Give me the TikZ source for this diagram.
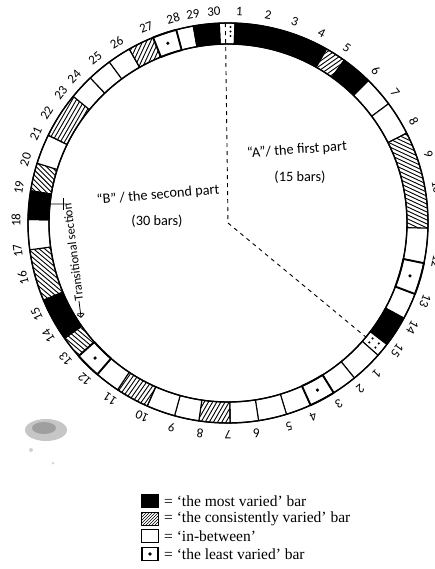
\documentclass[tikz,border=0pt]{standalone}
\usepackage{fontspec}
\setmainfont{Liberation Serif}
\newfontfamily\handfont{Carlito}
\usetikzlibrary{arrows.meta,patterns}
\newcommand\rin{179pt}
\newcommand\rout{200pt}
\newcommand\wseg[2]{\draw[segw] (#1:\rin) arc[start angle=#1,end angle=#2,radius=\rin] -- (#2:\rout) arc[start angle=#2,end angle=#1,radius=\rout] -- cycle;}
\newcommand\kseg[2]{\draw[segk] (#1:\rin) arc[start angle=#1,end angle=#2,radius=\rin] -- (#2:\rout) arc[start angle=#2,end angle=#1,radius=\rout] -- cycle;}
\newcommand\dseg[2]{\draw[segd] (#1:\rin) arc[start angle=#1,end angle=#2,radius=\rin] -- (#2:\rout) arc[start angle=#2,end angle=#1,radius=\rout] -- cycle;
  \pgfmathsetmacro\hm{(#1+#2)/2}\fill (\hm:189.5) circle[radius=1.8pt];}
\newcommand\hseg[3]{%
  \begin{scope}
    \clip (#1:\rin) arc[start angle=#1,end angle=#2,radius=\rin] -- (#2:\rout) arc[start angle=#2,end angle=#1,radius=\rout] -- cycle;
    \pgfmathsetmacro\hm{(#1+#2)/2}
    \begin{scope}[shift={(\hm:189.5)},rotate=#3]
      \foreach \k in {-22,...,22}{\draw[hatchline] (-80,\k*3.6) -- (80,\k*3.6);}
    \end{scope}
  \end{scope}
  \draw[seg] (#1:\rin) arc[start angle=#1,end angle=#2,radius=\rin] -- (#2:\rout) arc[start angle=#2,end angle=#1,radius=\rout] -- cycle;}
\begin{document}
\begin{tikzpicture}[x=1pt,y=1pt,
  seg/.style={draw=black, line width=1.1pt, line join=round},
  segw/.style={seg, fill=white},
  segk/.style={seg, fill=black},
  segd/.style={draw=black, line width=1.9pt, fill=white, line join=round},
  hatchline/.style={line width=0.9pt},
  ringline/.style={line width=1.4pt},
  lab/.style={font=\handfont\fontsize{13}{13}\selectfont, inner sep=0pt},
  hand/.style={font=\handfont\fontsize{14.3}{16}\selectfont, inner sep=0pt},
  trtext/.style={font=\handfont\fontsize{12.5}{13}\selectfont, inner sep=0pt},
  trarrow/.style={line width=0.8pt, -{Bar[width=7pt]Straight Barb[length=3pt,width=7pt]}},
  legtext/.style={font=\fontsize{15.5}{16}\selectfont, inner sep=0pt, anchor=west},
  legbox/.style={draw=black, line width=1pt, minimum width=16pt, minimum height=13pt, inner sep=0pt},
  dashline/.style={line width=0.9pt, dash pattern=on 4pt off 4pt},
]
\useasboundingbox (-228,-346) rectangle (206,223);
% ---- ring segments ----
\wseg{92.5}{88}
\kseg{88}{60.5}
\hseg{60.5}{54.5}{35}
\kseg{54.5}{45.4}
\wseg{45.4}{36.6}
\wseg{36.6}{26.7}
\hseg{26.7}{-1.5}{-25}
\wseg{-1.5}{-11.6}
\wseg{-20.8}{-28.4}
\kseg{-28.4}{-37.4}
\wseg{-37.4}{-41.4}
\wseg{-41.4}{-50.8}
\wseg{-50.8}{-58.1}
\wseg{-65.6}{-73}
\wseg{-73}{-81.2}
\wseg{-81.2}{-89.4}
\hseg{-89.4}{-98.4}{60}
\wseg{-98.4}{-105.5}
\wseg{-105.5}{-113.8}
\hseg{-113.8}{-123.5}{55}
\wseg{-123.5}{-130.8}
\hseg{-138.3}{-144.8}{-40}
\kseg{-144.8}{-157.3}
\hseg{-157.3}{-172.3}{-40}
\wseg{-172.3}{-181}
\kseg{-181}{-189.3}
\hseg{-189.3}{-197.4}{-45}
\wseg{-197.4}{-206}
\hseg{-206}{-219.3}{60}
\wseg{-219.3}{-226.5}
\wseg{-226.5}{-233.6}
\wseg{-233.6}{-240.4}
\hseg{-240.4}{-248}{65}
\wseg{-255}{-260}
\kseg{-260}{-267.5}
% least varied bars
\dseg{-11.6}{-20.8}
\dseg{-58.1}{-65.6}
\dseg{-130.8}{-138.3}
\dseg{-248}{-255}
% ring outline
\draw[ringline] (0,0) circle[radius=\rout];
\draw[ringline] (0,0) circle[radius=\rin];
% repeat-box dots
\foreach \yy in {196,191.5,187} \fill (2.5,\yy) circle[radius=1.2pt];
\foreach \a in {-38.6,-40.2} \foreach \r in {185,193} \fill (\a:\r) circle[radius=1.2pt];
% dashed division
\coordinate (c) at (0,0);
\coordinate (topend) at (90.75:\rout);
\coordinate (brend) at (-39.6:\rin);
\draw[dashline] (topend) -- (c) -- (brend);
% ---- bar numbers ----
\foreach \a/\t in {86.9/1, 79.1/2, 71.6/3, 63.8/4, 55.9/5, 45.8/6, 37.9/7, 28.8/8, 19/9, 9.7/10, 0/11, -10.5/12, -21.5/13, -29.5/14, -37/15}
  \node[lab, rotate=\a-90] (a\t) at (\a:212) {\t};
\foreach \a/\t in {-45.4/1, -51.3/2, -58.4/3, -66.3/4, -73.2/5, -82.2/6, -90/7, -97.6/8, -105.4/9, -113.9/10, -123.7/11, -132.5/12, -140/13, -147.8/14, -154.4/15, -165/16, -172.5/17, -180.8/18, 170.4/19, 162.6/20, 155/21, 148.8/22, 142/23, 136.5/24, 128.8/25, 121.7/26, 112.7/27, 105/28, 99.5/29, 93.8/30}
  \node[lab, rotate=\a-90] (b\t) at (\a:212) {\t};
% ---- part labels ----
\node[hand, rotate=4] (pa) at (69,73) {“A”/ the first part};
\node[hand] (pa2) at (72,46) {(15 bars)};
\node[hand, rotate=5] (pb) at (-70,28) {“B” / the second part};
\node[hand] (pb2) at (-71,2) {(30 bars)};
% ---- transitional section ----
\begin{scope}[shift={(-149,-78)}, rotate=97]
  \node[trtext, anchor=west, rotate=97] (tr) at (0,0) {Transitional section};
  \coordinate (trtip) at (-17,0);
  \draw[trarrow] (tr.west) -- (trtip);
\end{scope}
\coordinate (tmA) at (173.9:\rin);
\coordinate (tmB) at (-161,19);
\coordinate (tmC) at (-165,13);
\coordinate (tmD) at (-165,25);
\draw[line width=0.8pt] (tmA) -- (tmB);
\draw[line width=0.8pt] (tmC) -- (tmD);
% ---- scan smudge ----
\fill[gray!45] (-182,-207) ellipse[x radius=21, y radius=11];
\fill[gray!75] (-184,-205) ellipse[x radius=12, y radius=6];
\fill[gray!35] (-197,-227) circle[radius=2];
\fill[gray!30] (-175,-240) circle[radius=1.5];
% ---- legend ----
\node[legbox, fill=black] (k1) at (-78,-278) {};
\node[legbox, pattern=north east lines] (k2) at (-78,-295.7) {};
\node[legbox] (k3) at (-78,-313.4) {};
\node[legbox, line width=1.5pt] (k4) at (-78,-331) {};
\fill (k4.center) circle[radius=1.8pt];
\node[legtext] (t1) at (-64,-278) {= ‘the most varied’ bar};
\node[legtext] (t2) at (-64,-295.7) {= ‘the consistently varied’ bar};
\node[legtext] (t3) at (-64,-313.4) {= ‘in-between’};
\node[legtext] (t4) at (-64,-331) {= ‘the least varied’ bar};
\end{tikzpicture}
\end{document}
